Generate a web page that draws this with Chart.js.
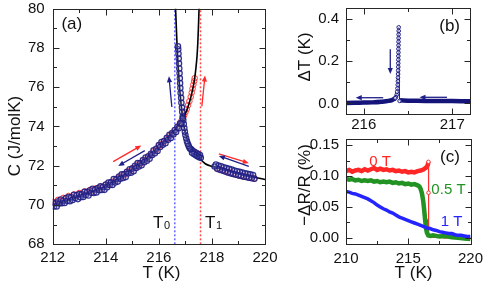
<!DOCTYPE html>
<html lang="en">
<head>
  <meta charset="UTF-8" />
  <title>C, dT and dR/R near the transition</title>
  <script src="https://cdn.jsdelivr.net/npm/chart.js"></script>
  <style>
    html, body {
      margin: 0;
      padding: 0;
      background: #fff;
    }
    #fig {
      position: relative;
      width: 494px;
      height: 285px;
    }
    canvas {
      position: absolute;
      display: block;
    }
    #chartA { left: 0; top: 0; width: 290px; height: 285px; }
    #chartB { left: 290px; top: 0; width: 204px; height: 134px; }
    #chartC { left: 290px; top: 134px; width: 204px; height: 151px; }
  </style>
</head>
<body>
  <div id="fig">
    <canvas id="chartA" width="290" height="285"></canvas>
    <canvas id="chartB" width="204" height="134"></canvas>
    <canvas id="chartC" width="204" height="151"></canvas>
  </div>

  <script>
    const FONT = '"Liberation Sans", Arial, sans-serif';

    // ---- panel (a): C(T), cooling (blue) and heating (red) ----
    const aXTicks = [212, 214, 216, 218, 220];
    const aYTicks = [68, 70, 72, 74, 76, 78, 80];

    // cooling, low-T branch
    const aBlueLoT = [212.00, 212.05, 212.10, 212.15, 212.20, 212.25, 212.30, 212.35, 212.40, 212.45,
      212.50, 212.55, 212.60, 212.65, 212.70, 212.75, 212.80, 212.85, 212.90, 212.95,
      213.00, 213.05, 213.10, 213.15, 213.20, 213.25, 213.30, 213.35, 213.40, 213.45,
      213.50, 213.55, 213.60, 213.65, 213.70, 213.75, 213.80, 213.85, 213.90, 213.95,
      214.00, 214.05, 214.10, 214.15, 214.20, 214.25, 214.30, 214.35, 214.40, 214.45,
      214.50, 214.55, 214.60, 214.65, 214.70, 214.75, 214.80, 214.85, 214.90, 214.95,
      215.00, 215.05, 215.10, 215.15, 215.20, 215.25, 215.30, 215.35, 215.40, 215.45,
      215.50, 215.55, 215.60, 215.65, 215.70, 215.75, 215.80, 215.85, 215.90, 215.95,
      216.00, 216.05, 216.10, 216.15, 216.20, 216.25, 216.30, 216.35, 216.40, 216.45,
      216.50, 216.55, 216.60, 216.65, 216.70, 216.75, 216.80, 216.85, 216.90];
    const aBlueLoC = [70.12, 69.92, 70.09, 69.93, 70.18, 70.08, 70.28, 70.09, 70.22, 70.10,
      70.35, 70.21, 70.41, 70.19, 70.39, 70.26, 70.52, 70.36, 70.50, 70.30,
      70.56, 70.40, 70.54, 70.41, 70.67, 70.51, 70.67, 70.48, 70.74, 70.62,
      70.82, 70.61, 70.79, 70.64, 70.86, 70.75, 70.95, 70.76, 70.92, 70.77,
      71.04, 70.90, 71.14, 71.02, 71.16, 71.02, 71.32, 71.14, 71.31, 71.19,
      71.45, 71.33, 71.56, 71.38, 71.58, 71.42, 71.69, 71.61, 71.82, 71.64,
      71.85, 71.72, 71.99, 71.88, 72.13, 71.96, 72.13, 72.02, 72.29, 72.18,
      72.41, 72.25, 72.47, 72.35, 72.61, 72.54, 72.78, 72.63, 72.86, 72.75,
      73.05, 72.95, 73.20, 73.06, 73.26, 73.14, 73.42, 73.32, 73.57, 73.41,
      73.66, 73.59, 73.82, 73.72, 73.98, 73.91, 74.16, 74.16, 74.41];

    // cooling, high-T side down to the jump at T0
    const aBlueHiT = [219.60, 219.55, 219.50, 219.45, 219.40, 219.35, 219.30, 219.25, 219.20, 219.15,
      219.10, 219.05, 219.00, 218.95, 218.90, 218.85, 218.80, 218.75, 218.70, 218.65,
      218.60, 218.55, 218.50, 218.45, 218.40, 218.35, 218.30, 218.25, 218.20, 218.15, 218.10,
      217.58, 217.55, 217.52, 217.48, 217.45, 217.42, 217.38, 217.35, 217.32, 217.28,
      217.25, 217.22, 217.18, 217.15, 217.12, 217.09, 217.06, 217.03, 217.00, 216.98,
      216.96, 216.94, 216.92, 216.90, 216.88, 216.87, 216.85, 216.84, 216.82, 216.81,
      216.80, 216.79, 216.78, 216.77, 216.76, 216.75, 216.74, 216.73, 216.72];
    const aBlueHiC = [71.34, 71.52, 71.36, 71.56, 71.39, 71.59, 71.42, 71.61, 71.44, 71.65,
      71.48, 71.69, 71.51, 71.72, 71.54, 71.75, 71.58, 71.80, 71.61, 71.84,
      71.66, 71.88, 71.70, 71.92, 71.75, 71.97, 71.79, 72.01, 71.84, 72.06, 71.96,
      72.40, 72.54, 72.43, 72.59, 72.48, 72.64, 72.54, 72.70, 72.60, 72.76,
      72.66, 72.84, 72.86, 72.93, 73.02, 73.12, 73.24, 73.40, 73.56, 73.73,
      73.92, 74.12, 74.32, 74.52, 74.74, 74.96, 75.20, 75.45, 75.70, 75.95,
      76.20, 76.45, 76.70, 76.95, 77.20, 77.45, 77.70, 77.92, 78.08];

    // heating
    const aRedT = [212.0, 212.1, 212.2, 212.3, 212.4, 212.5, 212.6, 212.7, 212.8, 212.9,
      213.0, 213.1, 213.2, 213.3, 213.4, 213.5, 213.6, 213.7, 213.8, 213.9,
      214.0, 214.1, 214.2, 214.3, 214.4, 214.5, 214.6, 214.7, 214.8, 214.9,
      215.0, 215.1, 215.2, 215.3, 215.4, 215.5, 215.6, 215.7, 215.8, 215.9,
      216.0, 216.1, 216.2, 216.3, 216.4, 216.5, 216.6, 216.7, 216.8, 216.85,
      216.9, 216.95, 217.0, 217.05, 217.1, 217.15, 217.2, 217.24, 217.27, 217.3,
      217.33, 217.35,
      218.2, 218.3, 218.4, 218.5, 218.6, 218.7, 218.8, 218.9, 219.0, 219.1,
      219.2, 219.3, 219.4, 219.5, 219.6];
    const aRedC = [70.16, 70.12, 70.26, 70.20, 70.36, 70.32, 70.46, 70.40, 70.53, 70.48,
      70.61, 70.56, 70.69, 70.63, 70.76, 70.72, 70.83, 70.82, 70.92, 70.90,
      71.02, 71.04, 71.17, 71.20, 71.34, 71.37, 71.51, 71.54, 71.69, 71.72,
      71.87, 71.90, 72.06, 72.10, 72.26, 72.31, 72.48, 72.55, 72.73, 72.82,
      73.00, 73.10, 73.25, 73.35, 73.50, 73.62, 73.79, 73.94, 74.15, 74.28,
      74.42, 74.55, 74.72, 74.88, 75.08, 75.28, 75.50, 75.72, 75.92, 76.12,
      76.30, 76.45,
      71.86, 71.84, 71.76, 71.74, 71.66, 71.66, 71.58, 71.57, 71.50, 71.50,
      71.44, 71.45, 71.38, 71.40, 71.34];

    // fitted curves (black)
    const aFitLoT = [212.0, 212.5, 213.0, 213.5, 214.0, 214.5, 215.0, 215.5, 216.0, 216.3,
      216.6, 216.8, 217.0, 217.1, 217.2, 217.3, 217.35, 217.4, 217.44, 217.47,
      217.49, 217.505, 217.515];
    const aFitLoC = [69.92, 70.18, 70.42, 70.66, 70.93, 71.30, 71.74, 72.25, 72.88, 73.30,
      73.78, 74.16, 74.65, 75.00, 75.45, 76.05, 76.45, 77.00, 77.60, 78.30,
      79.00, 79.60, 80.00];
    const aFitHiT = [216.63, 216.66, 216.69, 216.73, 216.78, 216.84, 216.90, 216.97, 217.05, 217.15,
      217.30, 217.50, 217.75, 218.00, 218.50, 219.00, 219.50, 220.00];
    const aFitHiC = [80.00, 79.00, 78.00, 77.00, 76.00, 75.10, 74.40, 73.85, 73.40, 73.05,
      72.72, 72.42, 72.10, 71.96, 71.78, 71.60, 71.44, 71.30];

    const aT0 = 216.6;
    const aT1 = 217.57;

    // ---- panel (b): temperature jump on cooling ----
    const bXTicks = [216, 217];
    const bYTicks = [0.0, 0.2, 0.4];
    const bRightT = [217.2, 217.1, 217.0, 216.9, 216.8, 216.7, 216.6, 216.5, 216.45, 216.41];
    const bRightV = [0.010, 0.010, 0.011, 0.011, 0.012, 0.012, 0.013, 0.013, 0.014, 0.015];
    const bSpikeT = [216.405, 216.395, 216.395, 216.394, 216.394, 216.393, 216.393, 216.392, 216.392,
      216.391, 216.391, 216.390, 216.390, 216.389, 216.388, 216.387, 216.386, 216.384, 216.381,
      216.377, 216.372, 216.365, 216.355];
    const bSpikeV = [0.012, 0.360, 0.343, 0.326, 0.309, 0.292, 0.275, 0.258, 0.241,
      0.224, 0.207, 0.190, 0.173, 0.156, 0.139, 0.122, 0.105, 0.088, 0.071,
      0.055, 0.040, 0.030, 0.025];
    const bLeftT = [216.355, 216.34, 216.32, 216.28, 216.2, 216.1, 216.0, 215.9, 215.8];
    const bLeftV = [0.025, 0.020, 0.016, 0.012, 0.008, 0.005, 0.004, 0.003, 0.002];

    // ---- panel (c): magnetoresistance at 0, 0.5 and 1 T ----
    const cXTicks = [210, 215, 220];
    const cYTicks = [0.00, 0.05, 0.10, 0.15];
    const cRedT = [210.00, 210.25, 210.50, 210.75, 211.00, 211.25, 211.50, 211.75, 212.00, 212.25,
      212.50, 212.75, 213.00, 213.25, 213.50, 213.75, 214.00, 214.25, 214.50, 214.75,
      215.00, 215.25, 215.50, 215.75, 216.00, 216.25, 216.50, 216.58, 216.62];
    const cRedV = [0.108, 0.110, 0.107, 0.109, 0.110, 0.108, 0.111, 0.109, 0.111, 0.113,
      0.110, 0.112, 0.110, 0.111, 0.109, 0.110, 0.108, 0.109, 0.107, 0.108,
      0.106, 0.107, 0.106, 0.108, 0.109, 0.111, 0.115, 0.119, 0.123];
    const cRedDropT = [216.62, 216.63, 216.64];
    const cRedDropV = [0.123, 0.073, 0.004];
    const cRedAfterT = [216.64, 217.0, 217.5, 218.0, 218.5, 219.0, 219.5, 220.0];
    const cRedAfterV = [0.004, 0.002, 0.003, 0.001, 0.002, 0.000, -0.001, -0.002];
    const cGreenT = [210.00, 210.25, 210.50, 210.75, 211.00, 211.25, 211.50, 211.75, 212.00, 212.25,
      212.50, 212.75, 213.00, 213.25, 213.50, 213.75, 214.00, 214.25, 214.50, 214.75,
      215.00, 215.25, 215.50, 215.75, 215.90, 216.00, 216.10, 216.20, 216.28, 216.35,
      216.42, 216.50, 216.60, 216.80, 217.00, 217.50, 218.00, 218.50, 219.00, 219.50, 220.00];
    const cGreenV = [0.096, 0.094, 0.095, 0.093, 0.094, 0.092, 0.093, 0.092, 0.093, 0.091,
      0.092, 0.090, 0.091, 0.090, 0.091, 0.089, 0.090, 0.088, 0.089, 0.087,
      0.088, 0.086, 0.087, 0.085, 0.083, 0.079, 0.072, 0.060, 0.045, 0.030,
      0.016, 0.008, 0.004, 0.003, 0.004, 0.002, 0.003, 0.001, 0.000, -0.001, -0.002];
    const cBlueT = [210.00, 210.25, 210.50, 210.75, 211.00, 211.25, 211.50, 211.75, 212.00, 212.25,
      212.50, 212.75, 213.00, 213.25, 213.50, 213.75, 214.00, 214.25, 214.50, 214.75,
      215.00, 215.25, 215.50, 215.75, 216.00, 216.25, 216.50, 216.75, 217.00, 217.25,
      217.50, 217.75, 218.00, 218.25, 218.50, 218.75, 219.00, 219.25, 219.50, 219.75, 220.00];
    const cBlueV = [0.075, 0.074, 0.072, 0.071, 0.069, 0.067, 0.065, 0.063, 0.060, 0.057,
      0.053, 0.050, 0.047, 0.045, 0.042, 0.040, 0.037, 0.034, 0.032, 0.030,
      0.028, 0.026, 0.024, 0.022, 0.020, 0.018, 0.016, 0.015, 0.013, 0.012,
      0.010, 0.009, 0.008, 0.007, 0.007, 0.005, 0.004, 0.004, 0.003, 0.002, 0.002];

    const pts = (xs, ys) => xs.map((x, i) => ({ x: x, y: ys[i] }));

    // frame with inward major/minor ticks on all four sides
    const frameTicks = {
      id: 'frameTicks',
      afterDraw(chart, args, o) {
        const { ctx, chartArea: a, scales: { x, y } } = chart;
        const L = Math.round(a.left) + 0.5, R = Math.round(a.right) + 0.5;
        const T = Math.round(a.top) + 0.5, B = Math.round(a.bottom) + 0.5;
        ctx.save();
        ctx.strokeStyle = '#262626';
        ctx.lineWidth = 1;
        ctx.beginPath();
        const isMajor = (v, step) => Math.abs(v / step - Math.round(v / step)) < 1e-6;
        for (let v = Math.ceil(x.min / o.xMinor - 1e-9) * o.xMinor; v <= x.max + 1e-9; v += o.xMinor) {
          const px = Math.round(x.getPixelForValue(v)) + 0.5;
          const len = isMajor(v, o.xMajor) ? 6 : 3.5;
          ctx.moveTo(px, B); ctx.lineTo(px, B - len);
          ctx.moveTo(px, T); ctx.lineTo(px, T + len);
        }
        for (let v = Math.ceil(y.min / o.yMinor - 1e-9) * o.yMinor; v <= y.max + 1e-9; v += o.yMinor) {
          const py = Math.round(y.getPixelForValue(v)) + 0.5;
          const len = isMajor(v, o.yMajor) ? 6 : 3.5;
          ctx.moveTo(L, py); ctx.lineTo(L + len, py);
          ctx.moveTo(R, py); ctx.lineTo(R - len, py);
        }
        ctx.stroke();
        ctx.strokeRect(L, T, R - L, B - T);
        ctx.restore();
      }
    };

    function arrow(ctx, x1, y1, x2, y2, color) {
      const ang = Math.atan2(y2 - y1, x2 - x1);
      const hl = 6, hw = 2.6;
      ctx.strokeStyle = color;
      ctx.fillStyle = color;
      ctx.lineWidth = 1.3;
      ctx.beginPath();
      ctx.moveTo(x1, y1);
      ctx.lineTo(x2 - Math.cos(ang) * hl * 0.8, y2 - Math.sin(ang) * hl * 0.8);
      ctx.stroke();
      ctx.beginPath();
      ctx.moveTo(x2, y2);
      ctx.lineTo(x2 - hl * Math.cos(ang) + hw * Math.sin(ang), y2 - hl * Math.sin(ang) - hw * Math.cos(ang));
      ctx.lineTo(x2 - hl * Math.cos(ang) - hw * Math.sin(ang), y2 - hl * Math.sin(ang) + hw * Math.cos(ang));
      ctx.closePath();
      ctx.fill();
    }

    // arrows and labels in data units, axis titles in canvas pixels
    const notes = {
      id: 'notes',
      afterDraw(chart, args, o) {
        const { ctx, scales: { x, y } } = chart;
        ctx.save();
        (o.arrows || []).forEach(a => {
          arrow(ctx, x.getPixelForValue(a.from[0]), y.getPixelForValue(a.from[1]),
            x.getPixelForValue(a.to[0]), y.getPixelForValue(a.to[1]), a.color);
        });
        (o.labels || []).forEach(l => {
          const px = x.getPixelForValue(l.at[0]), py = y.getPixelForValue(l.at[1]);
          ctx.fillStyle = l.color || '#111';
          ctx.font = (l.size || 15) + 'px ' + FONT;
          ctx.textAlign = l.sub ? 'left' : 'center';
          ctx.textBaseline = l.sub ? 'alphabetic' : 'middle';
          ctx.fillText(l.text, px, py);
          if (l.sub) {
            const w = ctx.measureText(l.text).width;
            ctx.font = '11px ' + FONT;
            ctx.fillText(l.sub, px + w + 0.5, py + 1);
          }
        });
        (o.titles || []).forEach(t => {
          ctx.save();
          ctx.translate(t.x, t.y);
          if (t.rot) ctx.rotate(-Math.PI / 2);
          ctx.fillStyle = '#111';
          ctx.font = (t.size || 17) + 'px ' + FONT;
          ctx.textAlign = 'center';
          ctx.textBaseline = 'middle';
          ctx.fillText(t.text, 0, 0);
          ctx.restore();
        });
        ctx.restore();
      }
    };

    // axes whose box sizes are pinned so the plot frames sit where the figure has them
    function axes(xr, yr, xTicks, yTicks, yWidth, xHeight, xPad, yPad, yFmt) {
      const tickFont = { family: FONT, size: 15, lineHeight: 1 };
      return {
        x: {
          type: 'linear', position: 'bottom', min: xr[0], max: xr[1],
          grid: { display: false, drawTicks: false },
          border: { display: false },
          afterBuildTicks: s => { s.ticks = xTicks.map(v => ({ value: v })); },
          afterFit: s => { s.height = xHeight; s.paddingLeft = 0; s.paddingRight = 0; },
          ticks: { font: tickFont, color: '#111', padding: xPad, autoSkip: false, maxRotation: 0,
            callback: v => String(v) }
        },
        y: {
          type: 'linear', position: 'left', min: yr[0], max: yr[1],
          grid: { display: false, drawTicks: false },
          border: { display: false },
          afterBuildTicks: s => { s.ticks = yTicks.map(v => ({ value: v })); },
          afterFit: s => { s.width = yWidth; s.paddingTop = 0; s.paddingBottom = 0; },
          ticks: { font: tickFont, color: '#111', padding: yPad, callback: yFmt }
        }
      };
    }

    const common = {
      responsive: false,
      animation: false,
      events: [],
      plugins: { legend: { display: false }, tooltip: { enabled: false } }
    };

    // ---------- panel (a) ----------
    // first dataset is drawn on top: blue data, then the fits, then red data
    new Chart(document.getElementById('chartA'), {
      type: 'scatter',
      data: {
        datasets: [
          { data: pts(aBlueLoT, aBlueLoC), pointRadius: 2.7, borderWidth: 1.2,
            borderColor: 'rgba(30,30,130,0.9)', backgroundColor: 'rgba(150,150,225,0.25)' },
          { data: pts(aBlueHiT, aBlueHiC), pointRadius: 2.7, borderWidth: 1.2,
            borderColor: 'rgba(30,30,130,0.9)', backgroundColor: 'rgba(150,150,225,0.25)' },
          { data: pts(aFitLoT, aFitLoC), showLine: true, pointRadius: 0, borderColor: '#000',
            borderWidth: 1.6, cubicInterpolationMode: 'monotone' },
          { data: pts(aFitHiT, aFitHiC), showLine: true, pointRadius: 0, borderColor: '#000',
            borderWidth: 1.6, cubicInterpolationMode: 'monotone' },
          { data: pts([aT0, aT0], [68, 80]), showLine: true, pointRadius: 0, borderColor: '#6f6fff',
            borderWidth: 1.6, borderDash: [2, 2] },
          { data: pts([aT1, aT1], [68, 80]), showLine: true, pointRadius: 0, borderColor: '#ff4a4a',
            borderWidth: 1.5, borderDash: [2, 2] },
          { data: pts(aRedT, aRedC), pointRadius: 2.8, borderWidth: 1,
            borderColor: 'rgba(255,50,50,0.95)', backgroundColor: 'rgba(255,200,200,0.2)' }
        ]
      },
      options: {
        ...common,
        layout: { padding: { left: 0, top: 8.5, right: 25, bottom: 0 } },
        scales: axes([212, 220], [68, 80], aXTicks, aYTicks, 52.7, 40.7, 6, 8, v => String(v)),
        plugins: {
          ...common.plugins,
          frameTicks: { xMajor: 2, xMinor: 1, yMajor: 2, yMinor: 1 },
          notes: {
            arrows: [
              { from: [214.28, 72.21], to: [215.34, 73.03], color: '#ff2a2a' },
              { from: [215.47, 72.77], to: [214.47, 71.99], color: '#1f1f8a' },
              { from: [218.26, 72.60], to: [219.39, 72.13], color: '#ff2a2a' },
              { from: [219.39, 71.96], to: [218.26, 72.50], color: '#1f1f8a' },
              { from: [216.49, 74.99], to: [216.38, 76.55], color: '#1f1f8a' },
              { from: [217.62, 75.02], to: [217.74, 76.59], color: '#ff2a2a' }
            ],
            labels: [
              { text: '(a)', at: [212.72, 79.21], size: 17 },
              { text: 'T', sub: '0', at: [215.78, 68.82], size: 17 },
              { text: 'T', sub: '1', at: [217.74, 68.82], size: 17 }
            ],
            titles: [
              { text: 'C (J/molK)', x: 15, y: 136, rot: true, size: 17 },
              { text: 'T (K)', x: 161.5, y: 273, size: 17 }
            ]
          }
        }
      },
      plugins: [frameTicks, notes]
    });

    // ---------- panel (b) ----------
    new Chart(document.getElementById('chartB'), {
      type: 'scatter',
      data: {
        datasets: [
          { data: pts(bSpikeT, bSpikeV), showLine: true, pointRadius: 1.8, borderWidth: 1,
            borderColor: '#1c1c86', backgroundColor: 'rgba(255,255,255,0.6)' },
          { data: pts(bRightT, bRightV), showLine: true, pointRadius: 0, borderWidth: 4.5,
            borderColor: '#14147a' },
          { data: pts(bLeftT, bLeftV), showLine: true, pointRadius: 0, borderWidth: 4.5,
            borderColor: '#14147a', cubicInterpolationMode: 'monotone' }
        ]
      },
      options: {
        ...common,
        layout: { padding: { left: 0, top: 8.3, right: 24, bottom: 0 } },
        scales: axes([215.8, 217.2], [-0.05, 0.45], bXTicks, bYTicks, 56, 20, 3.5, 7, v => v.toFixed(1)),
        plugins: {
          ...common.plugins,
          frameTicks: { xMajor: 1, xMinor: 0.5, yMajor: 0.2, yMinor: 0.1 },
          notes: {
            arrows: [
              { from: [216.30, 0.256], to: [216.30, 0.139], color: '#1f1f8a' },
              { from: [216.22, 0.027], to: [215.91, 0.027], color: '#1f1f8a' },
              { from: [216.94, 0.029], to: [216.63, 0.029], color: '#1f1f8a' }
            ],
            labels: [{ text: '(b)', at: [216.97, 0.363], size: 17 }],
            titles: [{ text: '\u0394T (K)', x: 15, y: 57, rot: true, size: 17 }]
          }
        }
      },
      plugins: [frameTicks, notes]
    });

    // ---------- panel (c) ----------
    new Chart(document.getElementById('chartC'), {
      type: 'scatter',
      data: {
        datasets: [
          { data: pts(cBlueT, cBlueV), showLine: true, pointRadius: 0, borderWidth: 3.5,
            borderColor: '#2424ff' },
          { data: pts(cGreenT, cGreenV), showLine: true, pointRadius: 0, borderWidth: 4.5,
            borderColor: '#229322' },
          { data: pts(cRedDropT, cRedDropV), showLine: true, pointRadius: 1.8, borderWidth: 1,
            borderColor: '#ff3030', backgroundColor: '#fff' },
          { data: pts(cRedT, cRedV), showLine: true, pointRadius: 0, borderWidth: 4.5,
            borderColor: '#ff2626' },
          { data: pts(cRedAfterT, cRedAfterV), showLine: true, pointRadius: 0, borderWidth: 3,
            borderColor: '#ff2626' }
        ]
      },
      options: {
        ...common,
        layout: { padding: { left: 0, top: 4.3, right: 23.5, bottom: 0 } },
        scales: axes([210, 220], [-0.01, 0.16], cXTicks, cYTicks, 56, 41, 7.5, 7, v => v.toFixed(2)),
        plugins: {
          ...common.plugins,
          frameTicks: { xMajor: 5, xMinor: 2.5, yMajor: 0.05, yMinor: 0.025 },
          notes: {
            labels: [
              { text: '(c)', at: [218.35, 0.130], size: 17 },
              { text: '0 T', at: [212.73, 0.1224], color: '#ff2626' },
              { text: '0.5 T', at: [218.23, 0.0769], color: '#229322' },
              { text: '1 T', at: [218.49, 0.0254], color: '#2424ff' }
            ],
            titles: [
              { text: '\u2212\u0394R/R (%)', x: 15, y: 51, rot: true, size: 17 },
              { text: 'T (K)', x: 123.5, y: 139, size: 17 }
            ]
          }
        }
      },
      plugins: [frameTicks, notes]
    });
  </script>
</body>
</html>
